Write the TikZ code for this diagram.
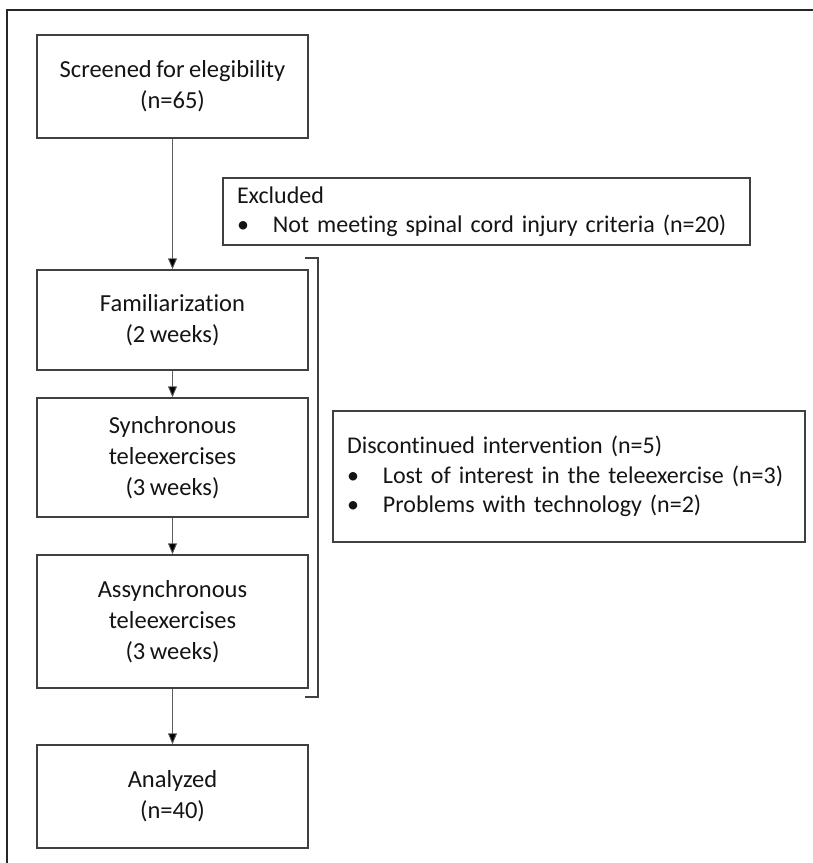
\documentclass[tikz,border=0pt]{standalone}
\usepackage{fontspec}
\setmainfont[RawFeature=-liga,WordSpace=0.8]{Carlito}
\usetikzlibrary{arrows.meta}
\definecolor{boxline}{HTML}{404040}
\definecolor{txt}{HTML}{141414}
\begin{document}
\begin{tikzpicture}[x=1pt,y=-1pt,
  font=\fontsize{24.5}{31}\selectfont,
  flowbox/.style={draw=boxline,line width=1.4pt,rectangle,text=txt,align=center,minimum width=271pt,inner sep=0pt},
  notebox/.style={draw=boxline,line width=1.4pt,rectangle,text=txt,align=left,inner xsep=14pt,inner ysep=0pt,font=\fontsize{24}{29.5}\selectfont},
  flowarrow/.style={draw=boxline!85,line width=0.9pt,-{Triangle[length=11pt,width=9pt,fill=black]}}]
\useasboundingbox (0,0) rectangle (813,863);
\draw[line width=2.4pt,color=black!85] (7,900) -- (7,10) -- (900,10);
\node[flowbox,minimum height=103pt] (scr) at (172.5,86.5) {Screened for elegibility\\(n=65)};
\node[flowbox,minimum height=100pt] (fam) at (172.5,320) {Familiarization\\(2 weeks)};
\node[flowbox,minimum height=119pt] (syn) at (172.5,457.5) {Synchronous\\teleexercises\\(3 weeks)};
\node[flowbox,minimum height=133pt] (asy) at (172.5,621.5) {Assynchronous\\teleexercises\\(3 weeks)};
\node[flowbox,minimum height=103pt] (ana) at (172.5,796.5) {Analyzed\\(n=40)};
\node[notebox,minimum width=527pt,minimum height=67pt,text width=499pt] (exc) at (486.5,211.5)
  {Excluded\\\makebox[36pt][l]{•}Not meeting spinal cord injury criteria (n=20)};
\node[notebox,minimum width=472pt,minimum height=131pt,text width=444pt] (dis) at (569,476.5)
  {Discontinued intervention (n=5)\\\makebox[36pt][l]{•}Lost of interest in the teleexercise (n=3)\\\makebox[36pt][l]{•}Problems with technology (n=2)};
\draw[flowarrow] (scr) -- (fam);
\draw[flowarrow] (fam) -- (syn);
\draw[flowarrow] (syn) -- (asy);
\draw[flowarrow] (asy) -- (ana);
\coordinate (bt1) at (305,258);
\coordinate (bt2) at (318,258);
\coordinate (bb2) at (318,697);
\coordinate (bb1) at (305,697);
\draw[boxline,line width=1.2pt] (bt1) -- (bt2) -- (bb2) -- (bb1);
\end{tikzpicture}
\end{document}
